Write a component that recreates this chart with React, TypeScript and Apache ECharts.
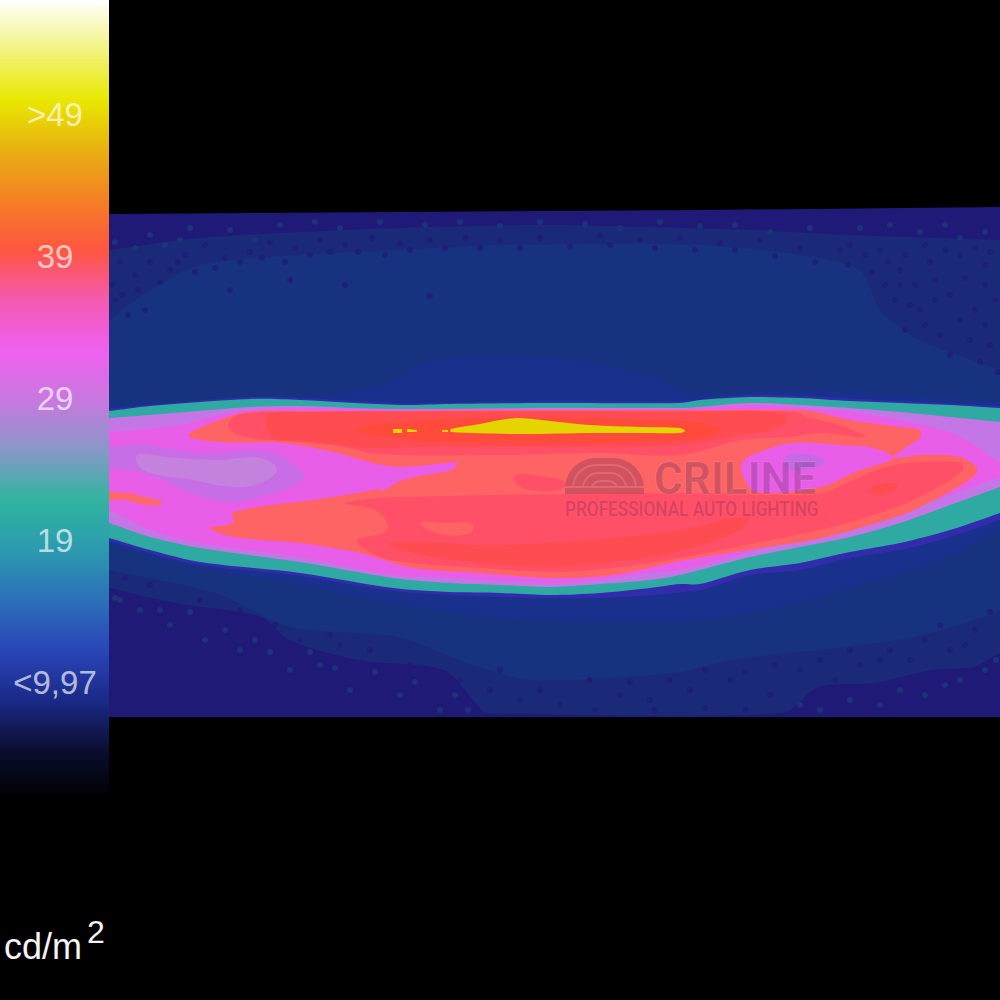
import React, { useEffect, useRef } from "react";
import * as echarts from "echarts";

type Pt = [number, number];

// luminance colour scale (bottom to top of the bar)
const scaleColors = ["#000000","#0b0e30","#1a2a88","#2a45b8","#2c70b8","#2c9ab0","#30b5a0","#8898c8","#c878e0","#f060f0","#f45ab0","#ff5540","#f58025","#e8b010","#e8e800","#f2f280","#ffffff"];
const scaleMin = 1.7;
const scaleMax = 57;
const tickLabels = [">49", "39", "29", "19", "<9,97"];
const tickRows = [114, 256, 398, 540, 682];

// measured field, outlines of each luminance level (outlines run past the picture's sides, where they are clipped)
const frame: Pt[] = [[109,214],[400,212],[700,210],[1000,207],[1000,717],[109,717]];
const mottleZone: Pt[] = [[70,255],[109,250],[200,238],[300,232],[400,228],[550,225],[750,230],[850,235],[1000,240],[1040,242],[1040,640],[1000,653],[973,667],[932,670],[875,683],[818,687],[783,713],[485,713],[479,707],[444,670],[358,660],[289,640],[261,617],[175,603],[109,588],[70,580]];
const solidBlue: Pt[] = [[70,345],[109,320],[150,290],[200,265],[300,255],[400,250],[500,245],[700,245],[800,255],[860,270],[880,310],[920,340],[1000,370],[1040,385],[1040,600],[1000,610],[984,617],[915,637],[846,647],[731,660],[674,673],[530,680],[467,663],[398,637],[290,627],[215,593],[109,570],[70,560]];
const brightBlue: Pt[] = [[70,407],[109,405],[300,398],[380,385],[433,360],[550,358],[650,375],[690,393],[800,390],[1000,402],[1040,405],[1040,515],[1000,530],[940,560],[860,585],[790,605],[700,620],[600,622],[500,618],[400,605],[300,585],[200,568],[109,545],[70,535]];
const violetEdge: Pt[] = [[70,412],[109,409],[150,405],[250,397],[300,398],[400,403],[550,401],[680,401],[750,395],[800,396],[900,401],[1000,406],[1040,408],[1040,505],[1000,520],[950,537],[900,550],[850,558],[800,570],[750,575],[700,590],[600,598],[500,597],[393,591],[300,576],[200,565],[150,553],[109,541],[70,530]];
const tealBand: Pt[] = [[70,414],[109,411],[150,406],[250,399],[300,400],[400,405],[450,404],[550,403],[680,403],[700,400],[750,397],[800,398],[850,401],[900,403],[950,405],[1000,408],[1040,410],[1040,498],[1000,513],[950,530],[900,543],[850,552],[800,563],[750,570],[700,584],[680,584],[650,588],[600,593],[550,595],[500,593],[450,592],[393,588],[300,573],[200,562],[150,550],[109,538],[70,528]];
const lilacBand: Pt[] = [[70,421],[109,418],[150,415],[250,407],[300,406],[380,409],[550,408],[680,408],[700,407],[750,403],[800,405],[850,408],[900,412],[950,417],[1000,422],[1040,426],[1040,472],[1000,487],[950,505],[900,523],[850,537],[800,547],[750,557],[680,575],[650,580],[600,584],[550,587],[500,585],[450,583],[393,578],[300,562],[200,548],[150,537],[109,523],[70,512]];
const magentaBand: Pt[] = [[70,435],[109,432],[180,425],[220,415],[250,410],[300,408],[400,409],[680,409],[700,408],[750,405],[800,408],[850,412],[900,420],[950,432],[975,445],[1000,462],[1040,470],[1040,462],[1000,477],[950,495],[900,513],[850,530],[800,540],[750,552],[680,570],[650,573],[600,580],[550,583],[450,578],[393,575],[300,557],[200,543],[150,530],[109,510],[70,498]];
const rightLilac: Pt[] = [[930,428],[965,432],[1000,440],[1040,442],[1040,478],[1000,462],[975,445],[950,432]];
const leftLilacOuter: Pt[] = [[70,449],[109,447],[143,445],[200,453],[267,452],[300,470],[303,480],[267,495],[233,502],[190,493],[150,475],[109,468],[70,465]];
const leftLilacInner: Pt[] = [[137,455],[167,457],[213,460],[260,458],[277,470],[260,483],[233,487],[193,480],[143,470]];
const leftSalmon: Pt[] = [[90,490],[112,492],[130,493],[145,497],[162,501],[160,505],[145,505],[125,500],[112,500],[90,498]];
const salmonBody: Pt[] = [[188,435],[225,418],[250,412],[300,411],[390,411],[500,410],[680,410],[800,410],[820,413],[850,420],[900,427],[920,430],[920,438],[905,448],[893,458],[920,455],[960,457],[977,468],[973,477],[940,497],[907,513],[863,527],[813,540],[747,550],[680,561],[613,575],[550,578],[480,573],[413,568],[360,553],[300,543],[233,537],[210,528],[233,523],[233,512],[333,497],[387,487],[400,481],[420,475],[457,463],[400,467],[373,463],[333,452],[283,443],[217,442]];
const magentaHole: Pt[] = [[742,463],[760,452],[793,443],[840,445],[873,448],[893,458],[870,467],[853,473],[820,487],[757,492],[745,480]];
const holeLilac: Pt[] = [[785,458],[805,454],[825,462],[805,470],[788,468]];
const speckleMagenta: Pt[] = [[380,467],[400,467],[420,467],[457,462],[452,470],[425,475],[400,480],[385,490],[380,490]];
const upperPink: Pt[] = [[228,425],[240,414],[300,412],[500,411],[700,411],[797,412],[807,417],[840,425],[865,437],[820,433],[790,437],[743,440],[680,455],[600,453],[500,455],[380,454],[333,445],[283,441],[240,436]];
const upperRed: Pt[] = [[267,415],[300,412],[500,412],[680,412],[773,412],[787,417],[780,427],[730,437],[680,445],[500,447],[400,447],[367,448],[300,440],[273,438]];
const coreOrange: Pt[] = [[355,430],[450,419],[680,421],[720,430],[680,440],[450,442]];
const lowerPink: Pt[] = [[345,503],[400,497],[680,493],[820,493],[853,480],[893,465],[960,462],[963,470],[933,490],[897,507],[847,523],[797,535],[747,545],[680,558],[613,568],[550,572],[480,568],[413,563],[380,557],[357,541],[385,532],[387,522],[375,510]];
const lowerRed: Pt[] = [[390,543],[447,543],[480,545],[547,543],[613,538],[680,530],[747,517],[740,530],[680,551],[613,562],[547,567],[480,563],[413,553]];
const rightRed: Pt[] = [[870,490],[885,483],[897,485],[890,493],[875,495]];
const midPink: Pt[] = [[515,475],[540,476],[565,482],[560,490],[530,490],[517,484]];
const salmonIsle: Pt[] = [[420,522],[445,523],[473,524],[470,533],[445,535],[425,528]];
const yellowCore: Pt[] = [[451,429],[480,424],[500,420],[520,418],[550,421],[590,425],[640,427],[680,428],[685,431],[680,433],[640,433],[590,433],[520,434],[451,432]];
const yellowSpeckA: Pt[] = [[393,429],[402,429],[402,433],[393,433]];
const yellowSpeckB: Pt[] = [[407,429],[417,430],[417,432],[407,432]];
const yellowSpeckC: Pt[] = [[442,430],[448,430],[448,432],[442,432]];

const bands: { lum: number; color: string; outline: Pt[]; smooth: number }[] = [
  { lum: 8, color: "#1f1a78", outline: frame, smooth: 0 },
  { lum: 9, color: "#1b2a78", outline: mottleZone, smooth: 0.25 },
  { lum: 10, color: "#17327f", outline: solidBlue, smooth: 0.25 },
  { lum: 11, color: "#19308c", outline: brightBlue, smooth: 0.35 },
  { lum: 13, color: "#322cac", outline: violetEdge, smooth: 0.3 },
  { lum: 20, color: "#2faaa2", outline: tealBand, smooth: 0.3 },
  { lum: 26, color: "#c576e6", outline: lilacBand, smooth: 0.3 },
  { lum: 30, color: "#e95ee9", outline: magentaBand, smooth: 0.3 },
  { lum: 27, color: "#c576e6", outline: rightLilac, smooth: 0.3 },
  { lum: 27, color: "#c76ee6", outline: leftLilacOuter, smooth: 0.4 },
  { lum: 26, color: "#c482de", outline: leftLilacInner, smooth: 0.4 },
  { lum: 34, color: "#ff6868", outline: leftSalmon, smooth: 0.2 },
  { lum: 36, color: "#ff6464", outline: salmonBody, smooth: 0.3 },
  { lum: 30, color: "#e95ee9", outline: magentaHole, smooth: 0.4 },
  { lum: 28, color: "#c56ae6", outline: holeLilac, smooth: 0.5 },
  { lum: 30, color: "#e95ee9", outline: speckleMagenta, smooth: 0.2 },
  { lum: 37, color: "#ff5068", outline: upperPink, smooth: 0.35 },
  { lum: 39, color: "#ff4c50", outline: upperRed, smooth: 0.35 },
  { lum: 41, color: "#ff4a3c", outline: coreOrange, smooth: 0.4 },
  { lum: 37, color: "#ff5068", outline: lowerPink, smooth: 0.35 },
  { lum: 38, color: "#ff4c50", outline: lowerRed, smooth: 0.4 },
  { lum: 38, color: "#ff4c50", outline: rightRed, smooth: 0.4 },
  { lum: 37, color: "#ff5068", outline: midPink, smooth: 0.4 },
  { lum: 36, color: "#ff6464", outline: salmonIsle, smooth: 0.4 },
  { lum: 50, color: "#e4d400", outline: yellowCore, smooth: 0.3 },
  { lum: 50, color: "#e4d400", outline: yellowSpeckA, smooth: 0 },
  { lum: 50, color: "#e4d400", outline: yellowSpeckB, smooth: 0 },
  { lum: 50, color: "#e4d400", outline: yellowSpeckC, smooth: 0 },
];

// dark flecks seen in the noisy regions
const darkFlecks: Pt[] = [[120,262],[135,275],[150,262],[170,270],[185,255],[205,245],[225,258],[250,252],[270,242],[295,248],[320,240],[345,245],[372,238],[400,243],[430,240],[465,238],[500,240],[540,238],[600,235],[640,240],[680,238],[720,243],[760,240],[800,248],[840,250],[850,245],[865,255],[880,250],[900,270],[930,262],[960,255],[985,265],[895,300],[920,310],[950,295],[975,310],[995,300],[905,330],[940,335],[970,340],[990,345],[885,285],[915,285],[115,300],[128,315],[145,310],[230,290],[290,280],[345,285],[430,296],[300,690],[380,680],[430,700],[520,700],[560,705],[620,695],[690,690],[730,680],[770,695],[800,670],[860,665],[890,650],[925,640],[950,650],[975,630],[835,680],[650,700],[460,680],[340,645],[300,640],
  [112,285],[122,295],[138,290],[160,282],[178,262],[195,272],[215,268],[240,262],[262,258],[285,262],[310,255],[330,252],[358,252],[385,255],[410,250],[445,248],[480,248],[520,248],[570,247],[610,245],[655,248],[695,250],[735,250],[775,256],[815,262],[848,265],[872,272],[888,262],[905,255],[925,245],[945,250],[975,248],[990,252],[900,285],[935,280],[965,278],[985,285],[910,305],[935,300],[960,320],[985,325],[925,325],[950,355],[980,362],[998,372],
  [500,670],[540,690],[590,680],[630,682],[670,680],[705,670],[745,672],[775,665],[820,660],[850,650],[880,660],[910,660],[940,625],[965,645],[990,612],[490,690],[410,665],[370,650],[330,635],[275,625],[240,610],[200,600],[150,585],[125,578],[595,710],[655,710],[705,708],[745,710]];
const lightFlecks: Pt[] = [[120,600],[140,610],[170,625],[205,640],[240,650],[290,670],[320,665],[350,690],[400,695],[440,710],[800,705],[850,700],[900,690],[960,680],[985,670],[280,225],[340,228],[500,226],[620,228],[770,232],[920,232],[960,238],
  [150,235],[190,228],[230,230],[315,222],[380,222],[425,225],[460,222],[540,222],[585,224],[660,222],[700,226],[735,225],[810,228],[860,228],[890,225],[945,225],[985,232],
  [115,242],[135,248],[165,245],[180,240],[255,240],[115,598],[160,610],[190,612],[225,630],[255,640],[270,652],[310,652],[335,668],[375,672],[415,682],[455,695],[468,710],[820,710],[880,705],[925,695],[945,685],[996,660]];

// the watermark's arch, as outlines
const archFill = "M0 29 C2 10 16 0 32 0 L47 0 C63 0 77 10 79 29 L79 36 L0 36 Z";
const archLines = "M8 28 C10 14 20 7 33 7 L46 7 C59 7 69 14 71 28 M18 28 C20 20 26 15 34 15 L45 15 C53 15 59 20 61 28 M27 28 C29 25 32 23 36 23 L43 23 C47 23 50 25 52 28 M0 29 L79 29";
echarts.graphic.registerShape("archFill", echarts.graphic.extendPath(archFill, {}) as any);
echarts.graphic.registerShape("archLines", echarts.graphic.extendPath(archLines, {}) as any);

const labelFill = "rgba(255,255,255,0.68)";
const markFill = "rgba(80,30,80,0.26)";
const markLine = "rgba(255,190,190,0.22)";

export default function App() {
  const ref = useRef<HTMLDivElement>(null);
  useEffect(() => {
    const chart = echarts.init(ref.current!, undefined, { renderer: "svg" });
    chart.setOption({
      animation: false,
      backgroundColor: "#000",
      grid: { left: 109, right: 0, top: 0, bottom: 0 },
      xAxis: { type: "value", min: 109, max: 1000, show: false },
      yAxis: { type: "value", min: 0, max: 1000, inverse: true, show: false },
      visualMap: {
        type: "continuous",
        min: scaleMin,
        max: scaleMax,
        left: 0,
        top: 0,
        padding: 0,
        itemWidth: 109,
        itemHeight: 800,
        text: ["", ""],
        showLabel: false,
        calculable: false,
        hoverLink: false,
        seriesIndex: 0,
        dimension: 0,
        inRange: { color: scaleColors },
      },
      series: [
        {
          type: "custom",
          data: bands.map((b) => [b.lum]),
          encode: { x: [], y: [] },
          clip: true,
          silent: true,
          renderItem: (params: any, api: any) => {
            const b = bands[params.dataIndex];
            return {
              type: "polygon",
              shape: { points: b.outline.map((p) => api.coord(p)), smooth: b.smooth },
              style: { fill: b.color },
            };
          },
        },
        {
          type: "scatter",
          data: darkFlecks,
          symbol: "circle",
          symbolSize: 6,
          silent: true,
          itemStyle: { color: "#1f1a78" },
        },
        {
          type: "scatter",
          data: lightFlecks,
          symbol: "circle",
          symbolSize: 6,
          silent: true,
          itemStyle: { color: "#1b3a78" },
        },
      ],
      graphic: [
        { type: "rect", silent: true, z: 99, shape: { x: 0, y: 0, width: 109, height: 5 }, style: { fill: "#ffffff" } },
        { type: "rect", silent: true, z: 99, shape: { x: 0, y: 794, width: 109, height: 8 }, style: { fill: "#000000" } },
        ...tickLabels.map((t, i) => ({
          type: "text",
          silent: true,
          z: 100,
          style: { x: 55, y: tickRows[i], text: t, fill: labelFill, font: "33px 'Liberation Sans'", textAlign: "center", textVerticalAlign: "middle" },
        })),
        { type: "text", silent: true, z: 100, style: { x: 4, y: 946, text: "cd/m", fill: "#f4f4f4", font: "36px 'Liberation Sans'", textAlign: "left", textVerticalAlign: "middle" } },
        { type: "text", silent: true, z: 100, style: { x: 87, y: 932, text: "2", fill: "#f4f4f4", font: "32px 'Liberation Sans'", textAlign: "left", textVerticalAlign: "middle" } },
        { type: "archFill", silent: true, z: 100, x: 565, y: 458, style: { fill: markFill } },
        { type: "archLines", silent: true, z: 101, x: 565, y: 458, style: { fill: "none", stroke: markLine, lineWidth: 2 } },
        { type: "text", silent: true, z: 100, style: { x: 654, y: 479, text: "CRILINE", fill: markFill, stroke: markLine, lineWidth: 1, font: "bold 44px Roboto", textAlign: "left", textVerticalAlign: "middle" } },
        { type: "text", silent: true, z: 100, x: 565, y: 510, scaleX: 0.86, style: { x: 0, y: 0, text: "PROFESSIONAL AUTO LIGHTING", fill: markFill, font: "500 20px Roboto", textAlign: "left", textVerticalAlign: "middle" } },
      ],
    });
    return () => chart.dispose();
  }, []);
  return <div ref={ref} style={{ position: "fixed", left: 0, top: 0, width: 1000, height: 1000 }} />;
}
